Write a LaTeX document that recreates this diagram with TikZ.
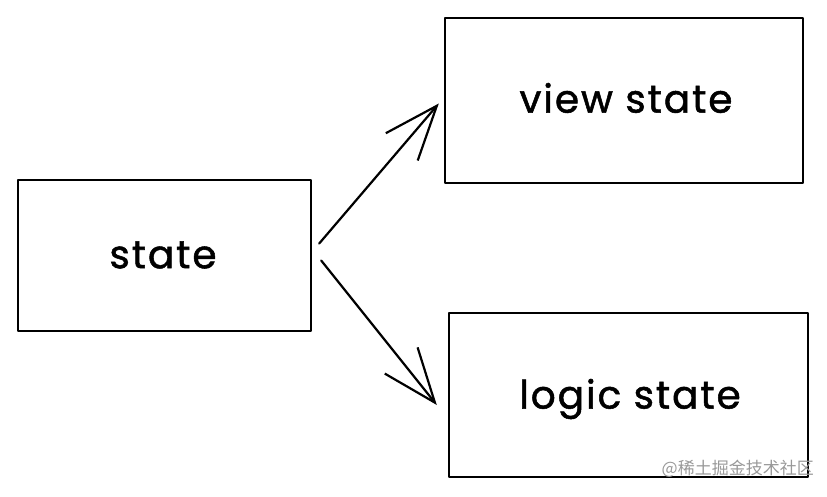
\documentclass[tikz,border=0pt]{standalone}
\usepackage{fontspec}
\setmainfont{Poppins}
\newfontfamily\lblfont{Poppins}[FakeBold=1.3,LetterSpace=5]
\newfontfamily\cjkfont{Noto Sans CJK SC}
\usetikzlibrary{arrows.meta}
\begin{document}
\begin{tikzpicture}[x=1pt,y=-1pt,
  sketchbox/.style={draw=black,line width=2.4pt,rectangle,inner sep=0pt,line join=round},
  label/.style={font=\lblfont\fontsize{39}{42}\selectfont,inner sep=0pt},
  arr/.style={line width=2.2pt,line cap=round,-{Straight Barb[length=54pt,width=42pt,line width=2.2pt]}}
]
\useasboundingbox (0,0) rectangle (827,497);
\node[sketchbox,minimum width=293pt,minimum height=151pt] (st) at (164.5,255.5) {};
\node[sketchbox,minimum width=358pt,minimum height=165pt] (vw) at (624,100.5) {};
\node[sketchbox,minimum width=359pt,minimum height=164pt] (lg) at (628.5,395) {};
\node[label] (stt) at (163,255) {state};
\node[label] (vwt) at (626,98) {view state};
\node[label] (lgt) at (630,399) {logic state};
\draw[arr] ([shift={(7,-12)}]st.east) -- ([shift={(-5,3)}]vw.west);
\draw[arr] ([shift={(9,5)}]st.east) -- ([shift={(-11,10)}]lg.west);
\node[font=\cjkfont\fontsize{17}{19}\selectfont,text=black!40,anchor=east,inner sep=0pt] (wm) at (814,469) {@稀土掘金技术社区};
\end{tikzpicture}
\end{document}
